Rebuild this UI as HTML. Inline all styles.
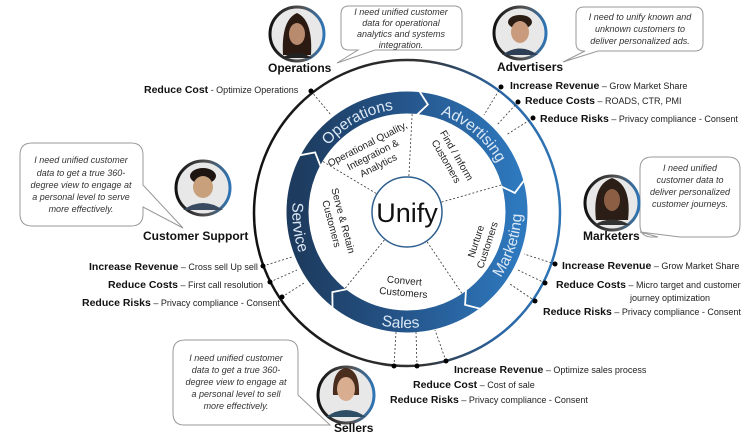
<!DOCTYPE html>
<html><head><meta charset="utf-8"><style>
html,body{margin:0;padding:0;background:#fff;}
svg{display:block;font-family:"Liberation Sans",sans-serif;}
.b{font-weight:bold;font-size:10.5px;fill:#111;}
.r{font-size:9px;fill:#222;}
.lab{font-weight:bold;font-size:12px;fill:#111;}
.bub{font-style:italic;font-size:9px;fill:#333;}
.in{font-size:10px;fill:#222;}
.ring{font-size:15.5px;fill:#dce8f5;}
</style></head><body>
<svg width="743" height="435" viewBox="0 0 743 435">
<defs>
<linearGradient id="og" x1="0" y1="0" x2="1" y2="0">
<stop offset="0" stop-color="#111"/><stop offset="0.55" stop-color="#333"/><stop offset="0.8" stop-color="#2a65a5"/><stop offset="1" stop-color="#2e75b6"/></linearGradient>
<linearGradient id="rg" x1="0" y1="0" x2="1" y2="0">
<stop offset="0" stop-color="#1d3b5e"/><stop offset="0.5" stop-color="#25568c"/><stop offset="1" stop-color="#2e78bd"/></linearGradient>
<linearGradient id="av" x1="0" y1="0" x2="1" y2="0">
<stop offset="0" stop-color="#111"/><stop offset="0.6" stop-color="#555"/><stop offset="1" stop-color="#2e75b6"/></linearGradient>
<path id="cw" d="M 304,212 A 103 103 0 1 1 510,212 A 103 103 0 1 1 304,212"/>
<path id="ccw" d="M 299.9,173 A 114 114 0 1 0 514.1,251 A 114 114 0 1 0 299.9,173"/>
</defs>

<circle cx="407" cy="213" r="153" fill="none" stroke="url(#og)" stroke-width="2.5"/>
<circle cx="407" cy="212" r="109.5" fill="none" stroke="url(#rg)" stroke-width="22"/>
<g fill="none" stroke="#fff" stroke-width="1.8">
<polyline points="505,212 516.1,221.5 528,212" transform="rotate(-84 407 212)"/>
<polyline points="505,212 516.1,221.5 528,212" transform="rotate(-15 407 212)"/>
<polyline points="505,212 516.1,221.5 528,212" transform="rotate(53 407 212)"/>
<polyline points="505,212 516.1,221.5 528,212" transform="rotate(128 407 212)"/>
<polyline points="505,212 516.1,221.5 528,212" transform="rotate(208 407 212)"/>
</g>
<g stroke="#333" stroke-width="0.8" stroke-dasharray="2,2">
<line x1="443" y1="212" x2="505" y2="212" transform="rotate(-87 407 212)"/>
<line x1="443" y1="212" x2="505" y2="212" transform="rotate(-16 407 212)"/>
<line x1="443" y1="212" x2="505" y2="212" transform="rotate(56 407 212)"/>
<line x1="443" y1="212" x2="505" y2="212" transform="rotate(129 407 212)"/>
<line x1="443" y1="212" x2="505" y2="212" transform="rotate(211 407 212)"/>
</g>
<circle cx="407" cy="212" r="35" fill="#fff" stroke="#2e5f8f" stroke-width="1.5"/>
<text x="407" y="222" text-anchor="middle" font-size="27" fill="#111">Unify</text>

<text class="ring"><textPath href="#cw" startOffset="110" text-anchor="middle">Operations</textPath></text>
<text class="ring"><textPath href="#cw" startOffset="234" text-anchor="middle">Advertising</textPath></text>
<text class="ring"><textPath href="#ccw" startOffset="56" text-anchor="middle">Service</textPath></text>
<text class="ring"><textPath href="#ccw" startOffset="215" text-anchor="middle">Sales</textPath></text>
<text class="ring"><textPath href="#ccw" startOffset="366" text-anchor="middle">Marketing</textPath></text>

<g class="in" text-anchor="middle">
<g transform="translate(373,155) rotate(-27)"><text y="-9">Operational Quality,</text><text y="3">Integration &amp;</text><text y="15">Analytics</text></g>
<g transform="translate(452,158) rotate(60)"><text y="-2">Find / Inform</text><text y="10">Customers</text></g>
<g transform="translate(338,222) rotate(75)"><text y="-2">Serve &amp; Retain</text><text y="10">Customers</text></g>
<g transform="translate(481,243) rotate(-72)"><text y="-2">Nurture</text><text y="10">Customers</text></g>
<g transform="translate(404,285) rotate(5)"><text y="-1">Convert</text><text y="11">Customers</text></g>
</g>

<g stroke="#333" stroke-width="0.8" stroke-dasharray="2,2" fill="none">
<line x1="311" y1="91" x2="331" y2="115"/>
<line x1="501" y1="87" x2="484" y2="115"/>
<line x1="518" y1="102" x2="497" y2="125"/>
<line x1="533" y1="118" x2="506" y2="135"/>
<line x1="263" y1="266" x2="292" y2="257"/>
<line x1="270" y1="282" x2="297" y2="270"/>
<line x1="282" y1="297" x2="304" y2="283"/>
<line x1="555" y1="264" x2="524" y2="254"/>
<line x1="545" y1="283" x2="518" y2="270"/>
<line x1="535" y1="301" x2="510" y2="284"/>
<line x1="394" y1="366" x2="396" y2="332"/>
<line x1="417" y1="366" x2="416" y2="332"/>
<line x1="446" y1="361" x2="435" y2="330"/>
</g>
<g fill="#000">
<circle cx="311" cy="91" r="2.5"/><circle cx="501" cy="87" r="2.5"/><circle cx="518" cy="102" r="2.5"/><circle cx="533" cy="118" r="2.5"/>
<circle cx="263" cy="266" r="2.5"/><circle cx="270" cy="282" r="2.5"/><circle cx="282" cy="297" r="2.5"/>
<circle cx="555" cy="264" r="2.5"/><circle cx="545" cy="283" r="2.5"/><circle cx="535" cy="301" r="2.5"/>
<circle cx="394" cy="366" r="2.5"/><circle cx="417" cy="366" r="2.5"/><circle cx="446" cy="361" r="2.5"/>
</g>

<g fill="#fff" stroke="#999" stroke-width="1">
<path d="M349,6 H454 Q462,6 462,14 V42 Q462,50 454,50 H375 L337,63 L358,50 H349 Q341,50 341,42 V14 Q341,6 349,6 Z"/>
<path d="M584,7 H695 Q703,7 703,15 V43 Q703,51 695,51 H598 L563,62 L585,51 H584 Q576,51 576,43 V15 Q576,7 584,7 Z"/>
<path d="M32,143 H131 Q143,143 143,155 V185 L183,228 L143,207 V214 Q143,226 131,226 H32 Q20,226 20,214 V155 Q20,143 32,143 Z"/>
<path d="M652,157 H728 Q740,157 740,169 V225 Q740,237 728,237 H680 L640,232 L658,237 H652 Q640,237 640,225 V169 Q640,157 652,157 Z"/>
<path d="M185,340 H286 Q298,340 298,352 V395 L330,425 L280,425 H184 Q173,425 173,413 V352 Q173,340 185,340 Z"/>
</g>
<g class="bub" text-anchor="middle">
<text x="401" y="15">I need unified customer</text><text x="401" y="26">data for operational</text><text x="401" y="37">analytics and systems</text><text x="401" y="48">integration.</text>
<text x="640" y="20">I need to unify known and</text><text x="640" y="32">unknown customers to</text><text x="640" y="44">deliver personalized ads.</text>
<text x="81" y="163">I need unified customer</text><text x="81" y="176">data to get a true 360-</text><text x="81" y="188">degree view to engage at</text><text x="81" y="200">a personal level to serve</text><text x="81" y="212">more effectively.</text>
<text x="690" y="171">I need unified</text><text x="690" y="183">customer data to</text><text x="690" y="195">deliver personalized</text><text x="690" y="207">customer journeys.</text>
<text x="236" y="361">I need unified customer</text><text x="236" y="373">data to get a true 360-</text><text x="236" y="385">degree view to engage at</text><text x="236" y="397">a personal level to sell</text><text x="236" y="409">more effectively.</text>
</g>

<g stroke="url(#av)" stroke-width="3">
<circle cx="297" cy="34" r="27" fill="#e8e8e8"/>
<circle cx="520" cy="33" r="26" fill="#e8e8e8"/>
<circle cx="203" cy="188" r="27" fill="#e8e8e8"/>
<circle cx="612" cy="203" r="27" fill="#e8e8e8"/>
<circle cx="346" cy="395" r="28" fill="#e8e8e8"/>
</g>
<g>
<path d="M283,55 Q281,20 297,13 Q313,20 311,55 Z" fill="#2a1a12"/><ellipse cx="297" cy="34" rx="8" ry="11" fill="#b88a6e"/><path d="M282,58 Q297,48 312,58 Z" fill="#222"/>
<ellipse cx="520" cy="22" rx="12" ry="7" fill="#2b1d14"/><ellipse cx="520" cy="32" rx="9" ry="11" fill="#c99a7c"/><path d="M502,55 Q520,42 538,55 Z" fill="#2d3e55"/>
<ellipse cx="203" cy="176" rx="13" ry="8" fill="#1e1510"/><ellipse cx="203" cy="187" rx="10" ry="11" fill="#c8a07c"/><path d="M183,210 Q203,196 223,210 Z" fill="#3a4a60"/>
<path d="M596,220 Q592,185 612,178 Q632,185 628,220 Z" fill="#2b1e16"/><ellipse cx="612" cy="200" rx="8" ry="11" fill="#8c5f45"/><path d="M594,225 Q612,214 630,225 Z" fill="#333"/>
<path d="M333,395 Q332,370 346,368 Q360,370 359,395 Z" fill="#4a2d1c"/><ellipse cx="346" cy="389" rx="9" ry="12" fill="#d9ad90"/><path d="M326,417 Q346,403 366,417 Z" fill="#2e4e66"/>
</g>

<text class="lab" x="268" y="72">Operations</text>
<text class="lab" x="497" y="71">Advertisers</text>
<text class="lab" x="143" y="240">Customer Support</text>
<text class="lab" x="583" y="240">Marketers</text>
<text class="lab" x="334" y="432">Sellers</text>

<text x="144" y="93"><tspan class="b">Reduce Cost</tspan><tspan class="r"> - Optimize Operations</tspan></text>
<text x="510" y="89"><tspan class="b">Increase Revenue</tspan><tspan class="r"> – Grow Market Share</tspan></text>
<text x="525" y="104"><tspan class="b">Reduce Costs</tspan><tspan class="r"> – ROADS, CTR, PMI</tspan></text>
<text x="540" y="122"><tspan class="b">Reduce Risks</tspan><tspan class="r"> – Privacy compliance - Consent</tspan></text>
<text x="89" y="270"><tspan class="b">Increase Revenue</tspan><tspan class="r"> – Cross sell Up sell</tspan></text>
<text x="108" y="288"><tspan class="b">Reduce Costs</tspan><tspan class="r"> – First call resolution</tspan></text>
<text x="82" y="306"><tspan class="b">Reduce Risks</tspan><tspan class="r"> – Privacy compliance - Consent</tspan></text>
<text x="562" y="269"><tspan class="b">Increase Revenue</tspan><tspan class="r"> – Grow Market Share</tspan></text>
<text x="556" y="288"><tspan class="b">Reduce Costs</tspan><tspan class="r"> – Micro target and customer</tspan></text>
<text x="630" y="301" class="r">journey optimization</text>
<text x="543" y="315"><tspan class="b">Reduce Risks</tspan><tspan class="r"> – Privacy compliance - Consent</tspan></text>
<text x="454" y="373"><tspan class="b">Increase Revenue</tspan><tspan class="r"> – Optimize sales process</tspan></text>
<text x="413" y="388"><tspan class="b">Reduce Cost</tspan><tspan class="r"> – Cost of sale</tspan></text>
<text x="390" y="403"><tspan class="b">Reduce Risks</tspan><tspan class="r"> – Privacy compliance - Consent</tspan></text>
</svg>
</body></html>
